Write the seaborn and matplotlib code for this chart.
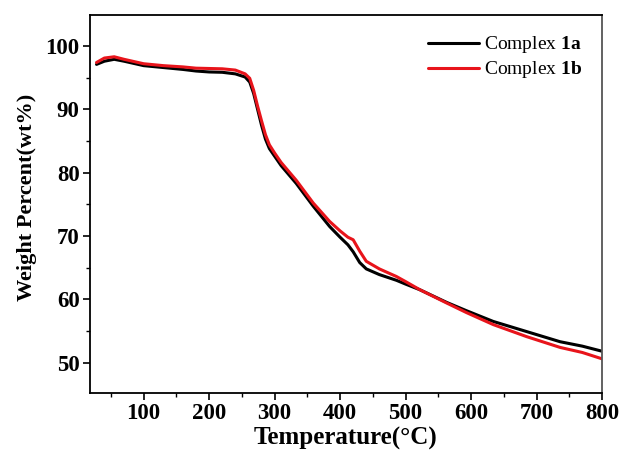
import numpy as np
import pandas as pd
import matplotlib
matplotlib.use("Agg")
import matplotlib.pyplot as plt
import seaborn as sns
from matplotlib.ticker import MultipleLocator

# Data
temperature = [28, 40, 55, 70, 100, 130, 160, 180, 200, 220, 240, 255, 262, 268, 274, 280, 286,
               292, 300, 310, 333, 359, 384, 400, 412, 420, 430, 440, 460, 486, 500, 522, 563,
               593, 634, 685, 736, 770, 800]
weight_1a = [97.1, 97.6, 97.9, 97.6, 96.9, 96.6, 96.3, 96.05, 95.9, 95.85, 95.6, 95.1, 94.3, 92.5,
             90.0, 87.5, 85.3, 83.8, 82.6, 81.1, 78.3, 74.7, 71.5, 69.8, 68.6, 67.5, 65.8, 64.8,
             63.9, 63.0, 62.4, 61.5, 59.5, 58.2, 56.5, 54.9, 53.3, 52.6, 51.8]
weight_1b = [97.4, 98.1, 98.3, 97.9, 97.2, 96.9, 96.7, 96.5, 96.45, 96.4, 96.2, 95.6, 94.9, 93.0,
             90.5, 88.2, 86.0, 84.4, 83.1, 81.6, 78.8, 75.2, 72.3, 70.8, 69.8, 69.4, 67.6, 66.0,
             64.8, 63.6, 62.8, 61.5, 59.4, 57.9, 56.0, 54.1, 52.4, 51.6, 50.6]
series_names = ["Complex $\\mathbf{1a}$", "Complex $\\mathbf{1b}$"]
series_colors = ["#000000", "#e8141b"]

df = pd.concat([
    pd.DataFrame({"T": temperature, "W": weight_1a, "s": series_names[0]}),
    pd.DataFrame({"T": temperature, "W": weight_1b, "s": series_names[1]}),
])

sns.set_style("ticks")
plt.rcParams["font.family"] = ["Liberation Serif", "DejaVu Serif"]
plt.rcParams["mathtext.fontset"] = "custom"
plt.rcParams["mathtext.rm"] = "Liberation Serif"
plt.rcParams["mathtext.bf"] = "Liberation Serif:bold"
plt.rcParams["text.color"] = "black"
plt.rcParams["axes.labelcolor"] = "black"
plt.rcParams["xtick.color"] = "black"
plt.rcParams["ytick.color"] = "black"

fig = plt.figure(figsize=(6.24, 4.61), dpi=100)
ax = fig.add_axes([0.1442, 0.1475, 0.8205, 0.82])

sns.lineplot(data=df, x="T", y="W", hue="s", palette=series_colors, linewidth=2.2,
             ax=ax, sort=False)

ax.set_xlim(18, 800)
ax.set_ylim(45.2, 104.9)
ax.set_xticks([100, 200, 300, 400, 500, 600, 700, 800])
ax.set_yticks([50, 60, 70, 80, 90, 100])
ax.xaxis.set_minor_locator(MultipleLocator(50))
ax.yaxis.set_minor_locator(MultipleLocator(5))

ax.tick_params(axis="both", which="major", direction="out", length=5, width=1.2,
               labelsize=16.5, pad=2.5, colors="black")
ax.tick_params(axis="both", which="minor", direction="out", length=2.8, width=1.0)
for lbl in ax.get_xticklabels() + ax.get_yticklabels():
    lbl.set_fontweight("bold")

for side in ["left", "bottom", "top"]:
    ax.spines[side].set_linewidth(1.3)
    ax.spines[side].set_color("black")
ax.spines["right"].set_linewidth(1.3)
ax.spines["right"].set_color("#555555")

ax.set_xlabel("Temperature(°C)", fontsize=18, fontweight="bold", labelpad=2, color="black")
ax.set_ylabel("Weight Percent(wt%)", fontsize=16, fontweight="bold", color="black")
ax.yaxis.set_label_coords(-0.104, 0.518)

leg = ax.legend(loc="upper right", frameon=False, fontsize=14, handlelength=2.6,
                handletextpad=0.3, labelspacing=0.2, borderaxespad=0.6)
for line in leg.get_lines():
    line.set_linewidth(2.2)
for t in leg.get_texts():
    t.set_color("black")

fig.savefig("out.png", dpi=100, facecolor="white")
